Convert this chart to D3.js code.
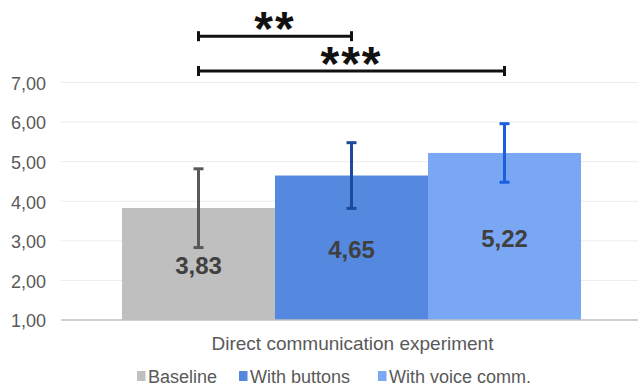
<!DOCTYPE html>
<html><head><meta charset="utf-8">
<script src="https://cdn.jsdelivr.net/npm/d3@7"></script>
<style>body{margin:0;background:#fff}svg{display:block}text{font-family:"Liberation Sans",Arial,sans-serif}</style>
</head><body>
<script>
const category = "Direct communication experiment";
const series = ["Baseline", "With buttons", "With voice comm."];
const means = [3.83, 4.65, 5.22];
const errLow = [2.83, 3.82, 4.48];
const errHigh = [4.82, 5.48, 5.96];
const yTicks = [1, 2, 3, 4, 5, 6, 7];
const barColors = ["#bfbfbf", "#5589e0", "#79a7f3"];
const errColors = ["#595959", "#1d4a9a", "#1b5ee0"];
const sigPairs = [[0, 1, "**"], [0, 2, "***"]];
const sigLevels = [8.17, 7.29];

const W = 638, H = 386;
const svg = d3.select("body").append("svg").attr("width", W).attr("height", H);
const y = d3.scaleLinear().domain([1, 7]).range([320, 82.5]);
const x0 = d3.scaleBand().domain([category]).range([61, 641]);
const x1 = d3.scaleBand().domain(series).range([122, 581]).padding(0);
const fmt = v => d3.format(".2f")(v).replace(".", ",");

// grid
svg.append("g").selectAll("line").data(yTicks.slice(1)).join("line")
  .attr("x1", 61).attr("x2", 638).attr("y1", d => y(d)).attr("y2", d => y(d))
  .attr("stroke", "#ececec").attr("stroke-width", 1);

// y axis labels
const ya = svg.append("g").attr("transform", "translate(46,1)")
  .call(d3.axisLeft(y).tickValues(yTicks).tickFormat(fmt).tickSize(0).tickPadding(0));
ya.select(".domain").remove();
ya.selectAll("text").attr("font-size", 18).attr("fill", "#595959").attr("font-family", "Liberation Sans, Arial, sans-serif");

// bars
svg.append("g").selectAll("rect").data(series).join("rect")
  .attr("x", d => x1(d)).attr("width", x1.bandwidth())
  .attr("y", (d, i) => y(means[i])).attr("height", (d, i) => y(1) - y(means[i]))
  .attr("fill", (d, i) => barColors[i]);

// axis line
svg.append("line").attr("x1", 61).attr("x2", 638).attr("y1", y(1)).attr("y2", y(1))
  .attr("stroke", "#bfbfbf").attr("stroke-width", 1.5);

// error bars
const eb = svg.append("g").selectAll("g").data(series).join("g")
  .attr("stroke", (d, i) => errColors[i]).attr("stroke-width", 3);
eb.append("line").attr("x1", d => x1(d) + x1.bandwidth() / 2).attr("x2", d => x1(d) + x1.bandwidth() / 2)
  .attr("y1", (d, i) => y(errHigh[i])).attr("y2", (d, i) => y(errLow[i]));
eb.append("line").attr("x1", d => x1(d) + x1.bandwidth() / 2 - 5).attr("x2", d => x1(d) + x1.bandwidth() / 2 + 5)
  .attr("y1", (d, i) => y(errHigh[i])).attr("y2", (d, i) => y(errHigh[i]));
eb.append("line").attr("x1", d => x1(d) + x1.bandwidth() / 2 - 5).attr("x2", d => x1(d) + x1.bandwidth() / 2 + 5)
  .attr("y1", (d, i) => y(errLow[i])).attr("y2", (d, i) => y(errLow[i]));

// value labels
svg.append("g").selectAll("text").data(series).join("text")
  .attr("x", d => x1(d) + x1.bandwidth() / 2)
  .attr("y", (d, i) => (y(means[i]) + y(1)) / 2 + 10.5)
  .attr("text-anchor", "middle").attr("font-size", 24).attr("font-weight", "bold")
  .attr("fill", "#404040").text((d, i) => fmt(means[i]));

// significance brackets
const cx = i => x1(series[i]) + x1.bandwidth() / 2;
const sg = svg.append("g").selectAll("g").data(sigPairs).join("g");
sg.append("line").attr("x1", d => cx(d[0])).attr("x2", d => cx(d[1]))
  .attr("y1", (d, i) => y(sigLevels[i])).attr("y2", (d, i) => y(sigLevels[i]))
  .attr("stroke", "#111").attr("stroke-width", 3);
sg.append("line").attr("x1", d => cx(d[0])).attr("x2", d => cx(d[0]))
  .attr("y1", (d, i) => y(sigLevels[i]) - 5).attr("y2", (d, i) => y(sigLevels[i]) + 5)
  .attr("stroke", "#111").attr("stroke-width", 3);
sg.append("line").attr("x1", d => cx(d[1])).attr("x2", d => cx(d[1]))
  .attr("y1", (d, i) => y(sigLevels[i]) - 5).attr("y2", (d, i) => y(sigLevels[i]) + 5)
  .attr("stroke", "#111").attr("stroke-width", 3);
sg.append("text").attr("x", d => (cx(d[0]) + cx(d[1])) / 2)
  .attr("y", (d, i) => y(sigLevels[i]) + 9)
  .attr("text-anchor", "middle").attr("font-size", 48).attr("font-weight", "bold")
  .attr("letter-spacing", 2)
  .attr("fill", "#111").text(d => d[2]);

// x label
svg.append("text").attr("x", x1(series[1]) + x1.bandwidth() / 2 + 1).attr("y", 350)
  .attr("text-anchor", "middle").attr("font-size", 19).attr("fill", "#595959").text(category);

// legend
const legX = [137, 239, 378];
const lg = svg.append("g").selectAll("g").data(series).join("g")
  .attr("transform", (d, i) => `translate(${legX[i]},371)`);
lg.append("rect").attr("width", 8.5).attr("height", 10).attr("fill", (d, i) => barColors[i]);
lg.append("text").attr("x", 11).attr("y", 12).attr("font-size", 18).attr("fill", "#595959").text(d => d);
</script>
</body></html>
